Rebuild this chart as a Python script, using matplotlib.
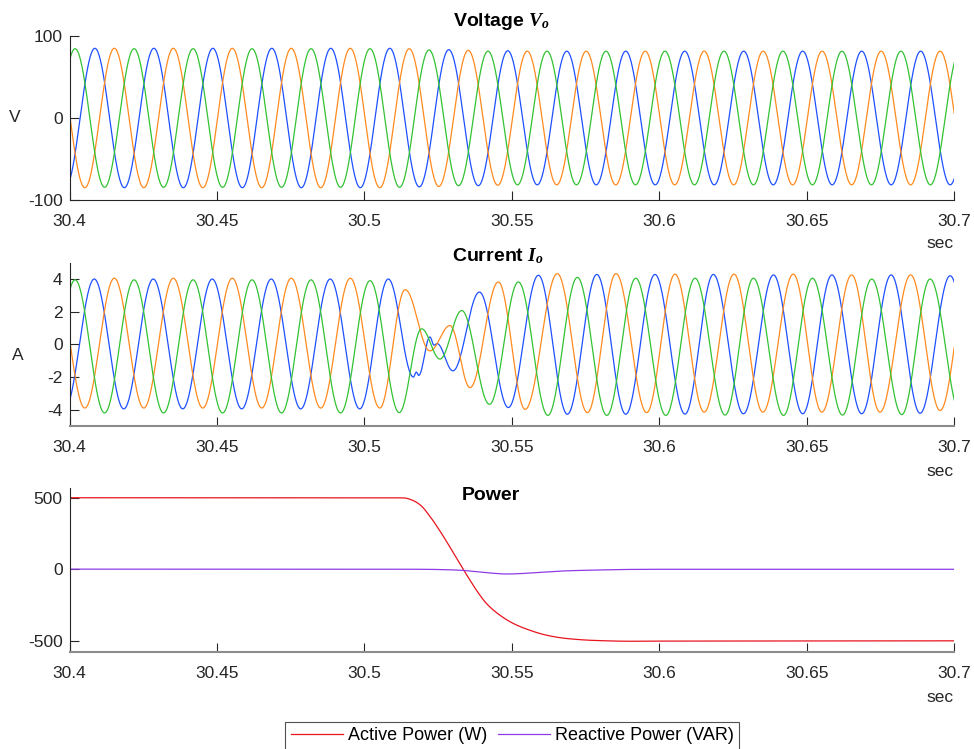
import numpy as np
import matplotlib
matplotlib.use("Agg")
import matplotlib.pyplot as plt

plt.rcParams['font.family'] = ['Liberation Sans', 'DejaVu Sans']
plt.rcParams['mathtext.fontset'] = 'custom'
plt.rcParams['mathtext.it'] = 'Liberation Serif:italic:bold'
plt.rcParams['mathtext.rm'] = 'Liberation Serif:bold'

# ---------------- data ----------------
x_ticks = [30.4, 30.45, 30.5, 30.55, 30.6, 30.65, 30.7]
x_ticklabels = ['30.4', '30.45', '30.5', '30.55', '30.6', '30.65', '30.7']

# Voltage: extrema every half period (0.01 s) starting at given time, sign alternates
half_period = 0.01
v_blue_start, v_blue_sign = 30.3986, -1
v_blue_amp = [85, 85, 85, 85, 85, 85, 85, 85, 85, 85, 85, 85, 84, 83.3, 82.5, 82,
              81.5, 81.5, 81.5, 81.5, 81.5, 81.5, 81.5, 81.5, 81.5, 81.5, 81.5, 81.5,
              81.5, 81.5, 81.5, 81.5]
v_orange_start, v_orange_sign = 30.3952, 1
v_orange_amp = [85, 85, 85, 85, 85, 85, 85, 85, 85, 85, 85, 85, 84.5, 83.5, 82.5, 82,
                81.5, 81.5, 81.5, 81.5, 81.5, 81.5, 81.5, 81.5, 81.5, 81.5, 81.5, 81.5,
                81.5, 81.5, 81.5, 81.5]
v_green_start, v_green_sign = 30.3919, -1
v_green_amp = [84.5, 84.5, 84.5, 84.5, 84.5, 84.5, 84.5, 84.5, 84.5, 84.5, 84.5, 84.5,
               84.5, 83, 82.5, 81.5, 81.5, 81.5, 81.5, 81.5, 81.5, 81.5, 81.5, 81.5,
               81.5, 81.5, 81.5, 81.5, 81.5, 81.5, 81.5, 81.5]

# Current: extrema (time, value) per phase
i_blue_t = [30.3984, 30.4084, 30.4184, 30.4284, 30.4384, 30.4484, 30.4584, 30.4684,
            30.4784, 30.4884, 30.4984, 30.5081, 30.5166, 30.5176, 30.5184, 30.5222,
            30.5236, 30.5246, 30.5300, 30.5390, 30.5488, 30.5590, 30.5688, 30.5788,
            30.5886, 30.5985, 30.6087, 30.6183, 30.6285, 30.6387, 30.6486, 30.6585,
            30.6686, 30.6786, 30.6884, 30.6986, 30.7086]
i_blue_v = [-3.95, 4.0, -3.95, 4.0, -3.95, 4.0, -3.95, 4.0,
            -3.95, 4.0, -3.95, 4.0, -2.0, -1.7, -1.9, 0.45,
            -0.05, 0.05, -1.62, 3.2, -3.87, 4.23, -4.28, 4.28,
            -4.28, 4.28, -4.27, 4.28, -4.25, 4.25, -4.25, 4.25,
            -4.25, 4.25, -4.22, 4.2, -4.2]
i_orange_t = [30.3952, 30.4052, 30.4152, 30.4252, 30.4352, 30.4452, 30.4552, 30.4652,
              30.4752, 30.4852, 30.4952, 30.5052, 30.5138, 30.5222, 30.5290, 30.5358,
              30.5454, 30.5545, 30.5654, 30.5756, 30.5853, 30.5957, 30.6053, 30.6152,
              30.6253, 30.6351, 30.6454, 30.6551, 30.6652, 30.6748, 30.6852, 30.6952,
              30.7052]
i_orange_v = [4.05, -3.9, 4.05, -3.9, 4.05, -3.9, 4.05, -3.9,
              4.05, -3.9, 4.05, -3.9, 3.35, -0.4, 1.15, -2.65,
              3.82, -3.98, 4.33, -4.18, 4.33, -4.18, 4.3, -4.15,
              4.3, -4.15, 4.3, -4.15, 4.25, -4.15, 4.25, -4.05,
              4.25]
i_green_t = [30.3919, 30.4019, 30.4119, 30.4219, 30.4319, 30.4419, 30.4519, 30.4619,
             30.4719, 30.4819, 30.4919, 30.5019, 30.5118, 30.5194, 30.5256, 30.5330,
             30.5424, 30.5522, 30.5622, 30.5722, 30.5822, 30.5920, 30.6022, 30.6121,
             30.6223, 30.6319, 30.6421, 30.6519, 30.6621, 30.6720, 30.6822, 30.6918,
             30.7022]
i_green_v = [-4.2, 3.95, -4.2, 3.95, -4.2, 3.95, -4.2, 3.95,
             -4.2, 3.95, -4.2, 3.9, -4.18, 0.95, -0.9, 2.07,
             -3.67, 3.82, -4.35, 4.1, -4.35, 4.05, -4.35, 4.05,
             -4.33, 4.05, -4.35, 4.05, -4.33, 4.0, -4.3, 4.0,
             -4.3]

# Power
p_t = [30.4, 30.45, 30.5, 30.5133, 30.5160, 30.5189, 30.5222, 30.5256, 30.5290,
       30.5324, 30.5347, 30.5381, 30.5415, 30.5460, 30.5505, 30.5562, 30.5618,
       30.5686, 30.5776, 30.5901, 30.6, 30.65, 30.7]
p_active = [500, 500, 500, 499, 485, 450, 370, 268, 155,
            38, -40, -150, -242, -322, -379, -427, -461,
            -484, -497, -503, -502, -501, -500]
q_t = [30.4, 30.45, 30.5, 30.52, 30.526, 30.532, 30.539, 30.5445, 30.548, 30.552,
       30.556, 30.562, 30.567, 30.573, 30.579, 30.59, 30.6, 30.65, 30.7]
q_reactive = [1, 1, 1, 0, -2, -6, -19, -29, -33, -31,
              -26, -18, -12, -8, -5, -1, 0, 0, 0]

# ---------------- styling ----------------
C_BLUE = '#1E50FF'
C_ORANGE = '#FF8A1E'
C_GREEN = '#33C233'
C_RED = '#E8141E'
C_PURPLE = '#8E3BE6'
DARK = '#262626'
W, H = 974, 749


def fx(px):
    return px / W


def fy(py):
    return 1 - py / H


def halfcos(tk, vk, t):
    tk = np.asarray(tk, float)
    vk = np.asarray(vk, float)
    idx = np.clip(np.searchsorted(tk, t, side='right') - 1, 0, len(tk) - 2)
    t0, t1 = tk[idx], tk[idx + 1]
    v0, v1 = vk[idx], vk[idx + 1]
    f = np.clip((t - t0) / (t1 - t0), 0, 1)
    return v0 + (v1 - v0) * (1 - np.cos(np.pi * f)) / 2


def pchip(x, y, xn):
    x = np.asarray(x, float)
    y = np.asarray(y, float)
    h = np.diff(x)
    delta = np.diff(y) / h
    n = len(x)
    d = np.zeros(n)
    for k in range(1, n - 1):
        if delta[k - 1] * delta[k] > 0:
            w1 = 2 * h[k] + h[k - 1]
            w2 = h[k] + 2 * h[k - 1]
            d[k] = (w1 + w2) / (w1 / delta[k - 1] + w2 / delta[k])
    idx = np.clip(np.searchsorted(x, xn, side='right') - 1, 0, n - 2)
    hh = h[idx]
    s = (xn - x[idx]) / hh
    h00 = 2 * s**3 - 3 * s**2 + 1
    h10 = s**3 - 2 * s**2 + s
    h01 = -2 * s**3 + 3 * s**2
    h11 = s**3 - s**2
    return h00 * y[idx] + h10 * hh * d[idx] + h01 * y[idx + 1] + h11 * hh * d[idx + 1]


def volt_extrema(start, sign, amps):
    n = len(amps)
    tk = start + half_period * np.arange(n)
    vk = np.array(amps) * sign * np.where(np.arange(n) % 2 == 0, 1, -1)
    return tk, vk


t = np.linspace(30.4, 30.7, 4001)

fig = plt.figure(figsize=(W / 100, H / 100), dpi=100)

boxes = [(69.5, 36, 954.3, 200), (69.5, 262.7, 954.3, 426), (69.5, 488.3, 954.3, 651.7)]
axes = []
for (l, tp, r, b) in boxes:
    ax = fig.add_axes([fx(l), fy(b), fx(r) - fx(l), fy(tp) - fy(b)])
    axes.append(ax)
ax1, ax2, ax3 = axes

# Voltage
for (st, sg, am, c) in [(v_blue_start, v_blue_sign, v_blue_amp, C_BLUE),
                        (v_orange_start, v_orange_sign, v_orange_amp, C_ORANGE),
                        (v_green_start, v_green_sign, v_green_amp, C_GREEN)]:
    tk, vk = volt_extrema(st, sg, am)
    ax1.plot(t, halfcos(tk, vk, t), color=c, lw=0.9)
ax1.set_ylim(-100, 100)
ax1.set_yticks([-100, 0, 100])
ax1.set_yticklabels(['-100', '0', '100'])

# Current
for (tk, vk, c) in [(i_blue_t, i_blue_v, C_BLUE), (i_orange_t, i_orange_v, C_ORANGE),
                    (i_green_t, i_green_v, C_GREEN)]:
    ax2.plot(t, halfcos(tk, vk, t), color=c, lw=0.9)
ax2.set_ylim(-5, 5)
ax2.set_yticks([-4, -2, 0, 2, 4])
ax2.set_yticklabels(['-4', '-2', '0', '2', '4'])

# Power
l1, = ax3.plot(t, pchip(p_t, p_active, t), color=C_RED, lw=0.9)
l2, = ax3.plot(t, pchip(q_t, q_reactive, t), color=C_PURPLE, lw=0.9)
ax3.set_ylim(-576, 566)
ax3.set_yticks([-500, 0, 500])
ax3.set_yticklabels(['-500', '0', '500'])

for i, ax in enumerate(axes):
    ax.set_xlim(30.4, 30.7)
    ax.set_xticks(x_ticks)
    ax.set_xticklabels(x_ticklabels)
    ax.spines['top'].set_visible(False)
    ax.spines['right'].set_visible(False)
    ax.spines['left'].set_color(DARK)
    ax.spines['left'].set_linewidth(0.8)
    if i == 0:
        ax.spines['bottom'].set_color(DARK)
        ax.spines['bottom'].set_linewidth(0.8)
    else:
        ax.spines['bottom'].set_color('#8c8c8c')
        ax.spines['bottom'].set_linewidth(1.5)
    ax.tick_params(direction='in', length=6.5, width=0.8, color=DARK,
                   labelcolor=DARK, labelsize=12.5)
    ax.tick_params(axis='x', pad=10)
    ax.tick_params(axis='y', pad=5)
    ax.patch.set_alpha(0)

# Titles and labels
fig.text(fx(501.5), fy(21.7), r'Voltage $V_o$', ha='center', va='center',
         fontsize=14, fontweight='bold', color='black')
fig.text(fx(498), fy(256.5), r'Current $I_o$', ha='center', va='center',
         fontsize=14, fontweight='bold', color='black')
fig.text(fx(490.5), fy(495), 'Power', ha='center', va='center',
         fontsize=14, fontweight='bold', color='black')
fig.text(fx(15), fy(118), 'V', ha='center', va='center', fontsize=12.5, color=DARK)
fig.text(fx(18), fy(355), 'A', ha='center', va='center', fontsize=12.5, color=DARK)
for yy in (244, 471, 697):
    fig.text(fx(954), fy(yy), 'sec', ha='right', va='center', fontsize=12.5, color=DARK)

leg = fig.legend([l1, l2], ['Active Power (W)', 'Reactive Power (VAR)'],
                 loc='upper center', bbox_to_anchor=(fx(512.2), fy(721.7)), ncol=2,
                 frameon=True, fancybox=False, edgecolor=DARK, fontsize=13,
                 handlelength=2.9, handletextpad=0.25, columnspacing=0.6,
                 borderpad=0.3, borderaxespad=0)
leg.get_frame().set_linewidth(0.8)
for txt in leg.get_texts():
    txt.set_color('black')

fig.savefig('out.png', dpi=100)
